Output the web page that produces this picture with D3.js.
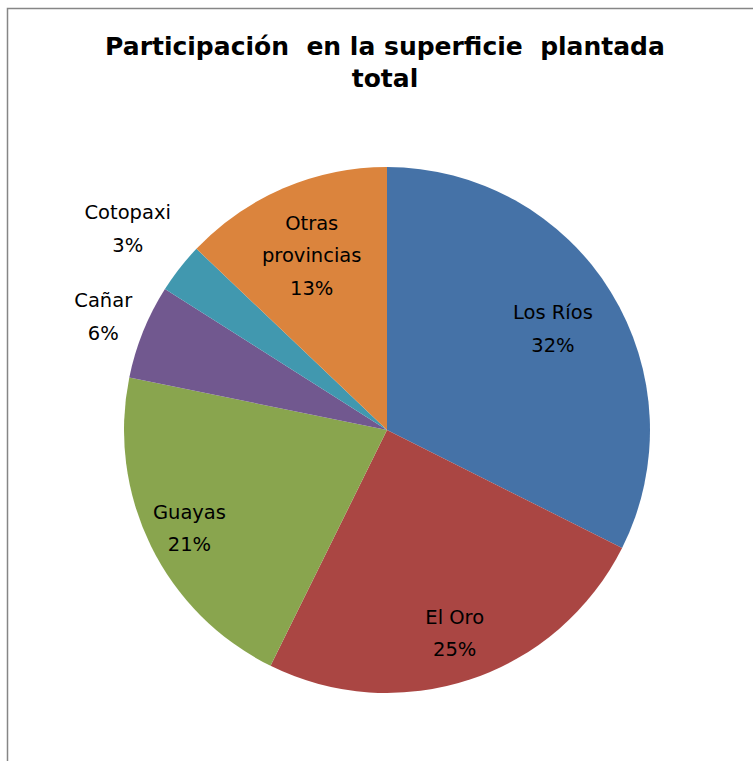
<!DOCTYPE html>
<html>
<head>
<meta charset="utf-8">
<script src="https://cdn.jsdelivr.net/npm/d3@7"></script>
<style>
  body { margin: 0; background: #fff; }
  svg { display: block; }
</style>
</head>
<body>
<svg id="chart" width="753" height="761"></svg>
<script>
// slice data, clockwise from 12 o'clock
const provinces = ["Los Ríos", "El Oro", "Guayas", "Cañar", "Cotopaxi", "Otras provincias"];
const shares = [32.4, 24.9, 20.9, 5.8, 3.1, 12.9];
const shareLabels = ["32%", "25%", "21%", "6%", "3%", "13%"];
const sliceColors = ["#4572A7", "#AA4643", "#89A54E", "#71588F", "#4198AF", "#DB843D"];

const svg = d3.select("#chart");
const W = 753, H = 761;

// chart frame
svg.append("rect")
    .attr("x", 7.5).attr("y", 8.5)
    .attr("width", W + 10).attr("height", H + 10)
    .attr("fill", "#fff")
    .attr("stroke", "#868686")
    .attr("stroke-width", 1.5);

// title
const title = svg.append("text")
    .attr("text-anchor", "middle")
    .style("font-family", "'DejaVu Sans', sans-serif")
    .style("font-weight", "bold")
    .style("font-size", "25px")
    .style("white-space", "pre")
    .attr("fill", "#000");
title.append("tspan").attr("x", 385).attr("y", 55).text("Participación  en la superficie  plantada");
title.append("tspan").attr("x", 385).attr("y", 87).text("total");

const cx = 387, cy = 430, R = 263;
const g = svg.append("g").attr("transform", `translate(${cx},${cy})`);

const data = provinces.map((p, i) => ({ name: p, value: shares[i], label: shareLabels[i], color: sliceColors[i] }));

const pie = d3.pie().sort(null).value(d => d.value);
const arc = d3.arc().innerRadius(0).outerRadius(R);
const arcs = pie(data);

g.selectAll("path.slice")
    .data(arcs)
    .join("path")
    .attr("class", "slice")
    .attr("d", arc)
    .attr("fill", d => d.data.color);

// label placement: inside for big slices, outside for small ones
const labelRadius = { "Los Ríos": 195, "El Oro": 213, "Guayas": 220, "Cañar": 306, "Cotopaxi": 329, "Otras provincias": 191 };

g.selectAll("text.lbl")
    .data(arcs)
    .join("text")
    .attr("class", "lbl")
    .attr("text-anchor", "middle")
    .style("font-family", "'DejaVu Sans', sans-serif")
    .style("font-size", "19.5px")
    .attr("fill", "#000")
    .each(function (d) {
        const mid = (d.startAngle + d.endAngle) / 2;
        const r = labelRadius[d.data.name];
        const x = Math.sin(mid) * r;
        const y = -Math.cos(mid) * r;
        const lines = d.data.name === "Otras provincias"
            ? ["Otras", "provincias", d.data.label]
            : [d.data.name, d.data.label];
        const lh = 32.5;
        const y0 = y - (lines.length - 1) * lh / 2 + 8;
        const t = d3.select(this);
        lines.forEach((ln, i) => {
            t.append("tspan").attr("x", x).attr("y", y0 + i * lh).text(ln);
        });
    });
</script>
</body>
</html>
